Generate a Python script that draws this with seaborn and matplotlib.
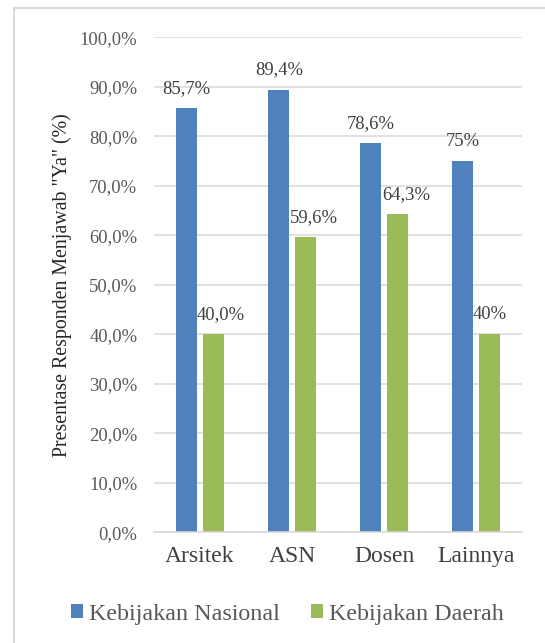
import matplotlib

matplotlib.use("Agg")
import matplotlib.pyplot as plt
import pandas as pd
import seaborn as sns
from matplotlib.lines import Line2D
from matplotlib.patches import Patch
from matplotlib.ticker import FuncFormatter, MultipleLocator

# data
categories = ["Arsitek", "ASN", "Dosen", "Lainnya"]
series_names = ["Kebijakan Nasional", "Kebijakan Daerah"]
nasional = [85.7, 89.4, 78.6, 75.0]
daerah = [40.0, 59.6, 64.3, 40.0]
nasional_labels = ["85,7%", "89,4%", "78,6%", "75%"]
daerah_labels = ["40,0%", "59,6%", "64,3%", "40%"]
y_label = 'Presentase Responden Menjawab "Ya" (%)'

COLORS = ["#4F81BD", "#9BBB59"]
GRID = "#D9D9D9"
SERIF = ["Liberation Serif", "DejaVu Serif"]
# small sideways nudges (points) of the green labels, as in the reference
DAERAH_NUDGE = [5, 6.5, 6.5, 0]

df = pd.DataFrame({
    "kategori": categories * 2,
    "seri": [series_names[0]] * len(categories) + [series_names[1]] * len(categories),
    "nilai": nasional + daerah,
})

sns.set_style("white")
plt.rcParams["font.family"] = SERIF

fig = plt.figure(figsize=(5.45, 6.43), dpi=100)
ax = fig.add_axes([0.2826, 0.1719, 0.6752, 0.7698])

sns.barplot(
    data=df, x="kategori", y="nilai", hue="seri",
    hue_order=series_names, order=categories,
    palette=COLORS, saturation=1, width=0.576, gap=0.21,
    linewidth=0, ax=ax, legend=False,
)

ax.set_ylim(0, 100)
ax.yaxis.set_major_locator(MultipleLocator(10))
ax.yaxis.set_major_formatter(FuncFormatter(lambda v, p: f"{v:.1f}%".replace(".", ",")))
ax.grid(axis="y", color=GRID, linewidth=1.1)
ax.set_axisbelow(True)
for side in ["top", "right", "left"]:
    ax.spines[side].set_visible(False)
ax.spines["bottom"].set_color(GRID)
ax.spines["bottom"].set_linewidth(1.1)

ax.tick_params(axis="y", length=0, pad=12, labelsize=13.4, labelcolor="#595959")
ax.tick_params(axis="x", length=0, pad=10, labelsize=17, labelcolor="#404040")
ax.set_xlabel("")
ax.set_ylabel(y_label, fontsize=14.3, color="#262626", family=SERIF)
ax.yaxis.set_label_coords(-0.222, 0.5)

labels_per_series = [nasional_labels, daerah_labels]
for i, cont in enumerate(ax.containers):
    anns = ax.bar_label(cont, labels=labels_per_series[i], padding=8.3,
                        fontsize=13.4, color="#404040", family=SERIF)
    if i == 1:
        for ann, dx in zip(anns, DAERAH_NUDGE):
            ann.xyann = (dx, ann.xyann[1])

handles = [Patch(facecolor=c, edgecolor="none") for c in COLORS]
fig.legend(
    handles, series_names, loc="center", bbox_to_anchor=(0.527, 0.045),
    ncol=2, frameon=False, prop={"family": SERIF, "size": 17.3}, labelcolor="#595959",
    handlelength=0.5, handleheight=0.5, handletextpad=0.25, columnspacing=1.3,
)

# light frame of the chart area (runs off the right and bottom edge)
fx = 14 / 545
fy = 1 - 8 / 643
fig.add_artist(Line2D([fx, fx], [0, fy], transform=fig.transFigure, color=GRID, linewidth=1.5))
fig.add_artist(Line2D([fx, 1], [fy, fy], transform=fig.transFigure, color=GRID, linewidth=1.5))

fig.savefig("out.png", dpi=100)
